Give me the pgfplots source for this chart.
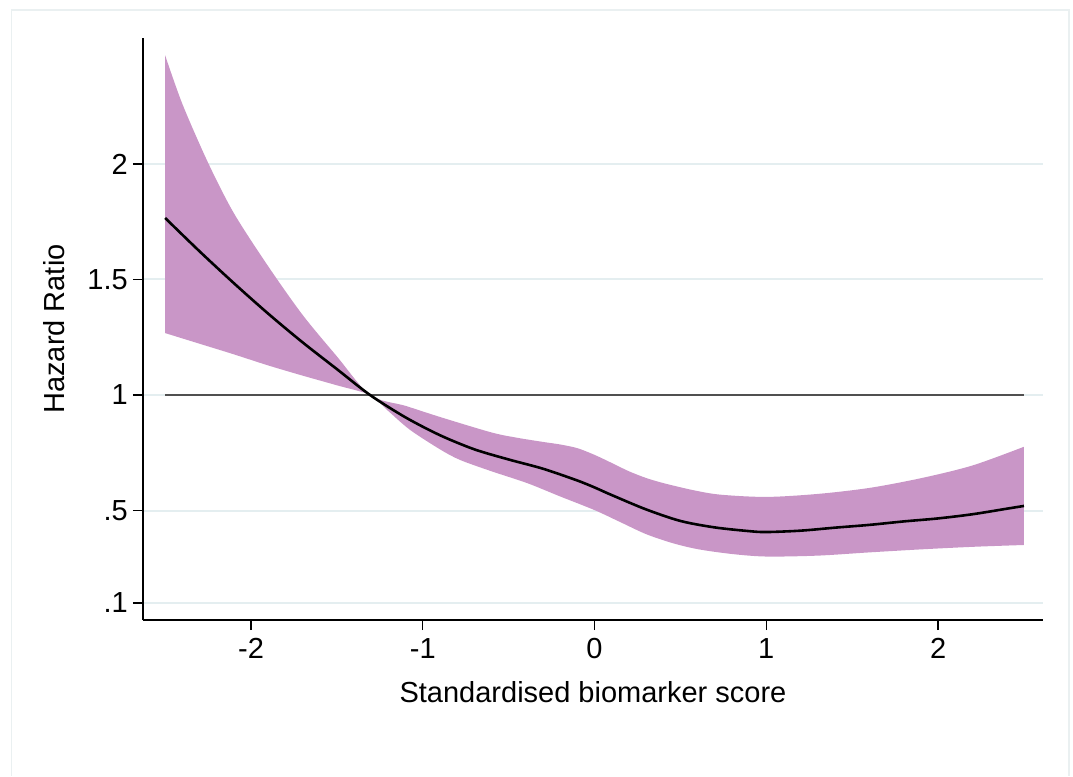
\documentclass[border=0pt]{standalone}
\usepackage{fontspec}
\setmainfont{Liberation Sans}
\usepackage{pgfplots}
\pgfplotsset{compat=1.18}
\usepgfplotslibrary{fillbetween}

\definecolor{band}{RGB}{201,150,199}
\definecolor{gridc}{RGB}{228,238,240}
\definecolor{refline}{RGB}{80,80,80}
\definecolor{framec}{RGB}{234,240,241}

\begin{document}
\begin{tikzpicture}
  % page size and outer frame of the graph region
  \path (0pt,0pt) rectangle (1073pt,776pt);
  \draw[framec, line width=1.5pt] (11.5pt,0pt) -- (11.5pt,766pt) -- (1069pt,766pt) -- (1069pt,0pt);

  \begin{axis}[
      at={(143pt,156pt)},
      anchor=south west,
      scale only axis,
      width=900pt,
      height=582pt,
      xmin=-2.629, xmax=2.611,
      ymin=0.0264, ymax=2.545,
      axis lines*=left,
      axis line style={line width=2.2pt},
      xtick={-2,-1,0,1,2},
      xticklabels={-2,-1,0,1,2},
      ytick={0.1,0.5,1,1.5,2},
      yticklabels={.1,.5,1,1.5,2},
      tick align=outside,
      major tick length=10pt,
      tick style={line width=1.4pt, black},
      ymajorgrids,
      grid style={gridc, line width=2pt},
      ticklabel style={font=\fontsize{29}{34}\selectfont},
      yticklabel style={anchor=east, inner sep=0pt, xshift=-5pt},
      xticklabel style={anchor=north, inner sep=0pt, yshift=-8pt},
      xlabel={Standardised biomarker score},
      ylabel={Hazard Ratio},
      label style={font=\fontsize{29}{34}\selectfont},
      xlabel style={at={(axis description cs:0.5,-0.1426)}, anchor=base},
      ylabel style={at={(axis description cs:-0.0989,0.5)}, anchor=center},
    ]
    % confidence band, upper limit
    \addplot[name path=hi, draw=none, smooth, tension=0.5] coordinates {
      (-2.5,2.47) (-2.4,2.26) (-2.25,2.005) (-2.1,1.787) (-1.9,1.557)
      (-1.7,1.347) (-1.5,1.167) (-1.307,1.0)
      (-1.1,0.953) (-0.9,0.905) (-0.6,0.838) (-0.45,0.815) (-0.3,0.797)
      (-0.2,0.786) (-0.1,0.770) (0.0,0.741) (0.1,0.706) (0.2,0.670)
      (0.3,0.641) (0.4,0.619) (0.57,0.589) (0.73,0.569) (1.0,0.559)
      (1.3,0.572) (1.6,0.598) (1.9,0.64) (2.2,0.695) (2.5,0.776)
    };
    % confidence band, lower limit
    \addplot[name path=lo, draw=none, smooth, tension=0.5] coordinates {
      (-2.5,1.268) (-2.3,1.222) (-2.1,1.176) (-1.9,1.128) (-1.7,1.084)
      (-1.5,1.042) (-1.307,1.0)
      (-1.2,0.93) (-1.074,0.849) (-0.9,0.765) (-0.783,0.719) (-0.6,0.67)
      (-0.393,0.619) (-0.2,0.561) (0.0,0.502) (0.15,0.45) (0.3,0.398)
      (0.45,0.36) (0.6,0.333) (0.8,0.312) (1.0,0.301) (1.3,0.305)
      (1.6,0.319) (1.9,0.332) (2.2,0.343) (2.5,0.351)
    };
    \addplot[band, draw=none] fill between[of=hi and lo];

    % reference line at HR = 1
    \addplot[refline, line width=2.2pt] coordinates {(-2.5,1) (2.5,1)};

    % hazard ratio curve
    \addplot[black, line width=2.6pt, smooth, tension=0.5] coordinates {
      (-2.5,1.766) (-2.3,1.622) (-2.1,1.484) (-1.9,1.352) (-1.7,1.228)
      (-1.5,1.112) (-1.307,1.0) (-1.1,0.903) (-0.9,0.826) (-0.7,0.765)
      (-0.5,0.721) (-0.3,0.681) (-0.1,0.63) (0.0,0.60) (0.1,0.567)
      (0.3,0.505) (0.5,0.455) (0.7,0.427) (0.9,0.411) (1.0,0.407)
      (1.2,0.413) (1.4,0.426) (1.6,0.438) (1.8,0.453) (2.0,0.466)
      (2.2,0.484) (2.4,0.508) (2.5,0.520)
    };
  \end{axis}
\end{tikzpicture}
\end{document}
